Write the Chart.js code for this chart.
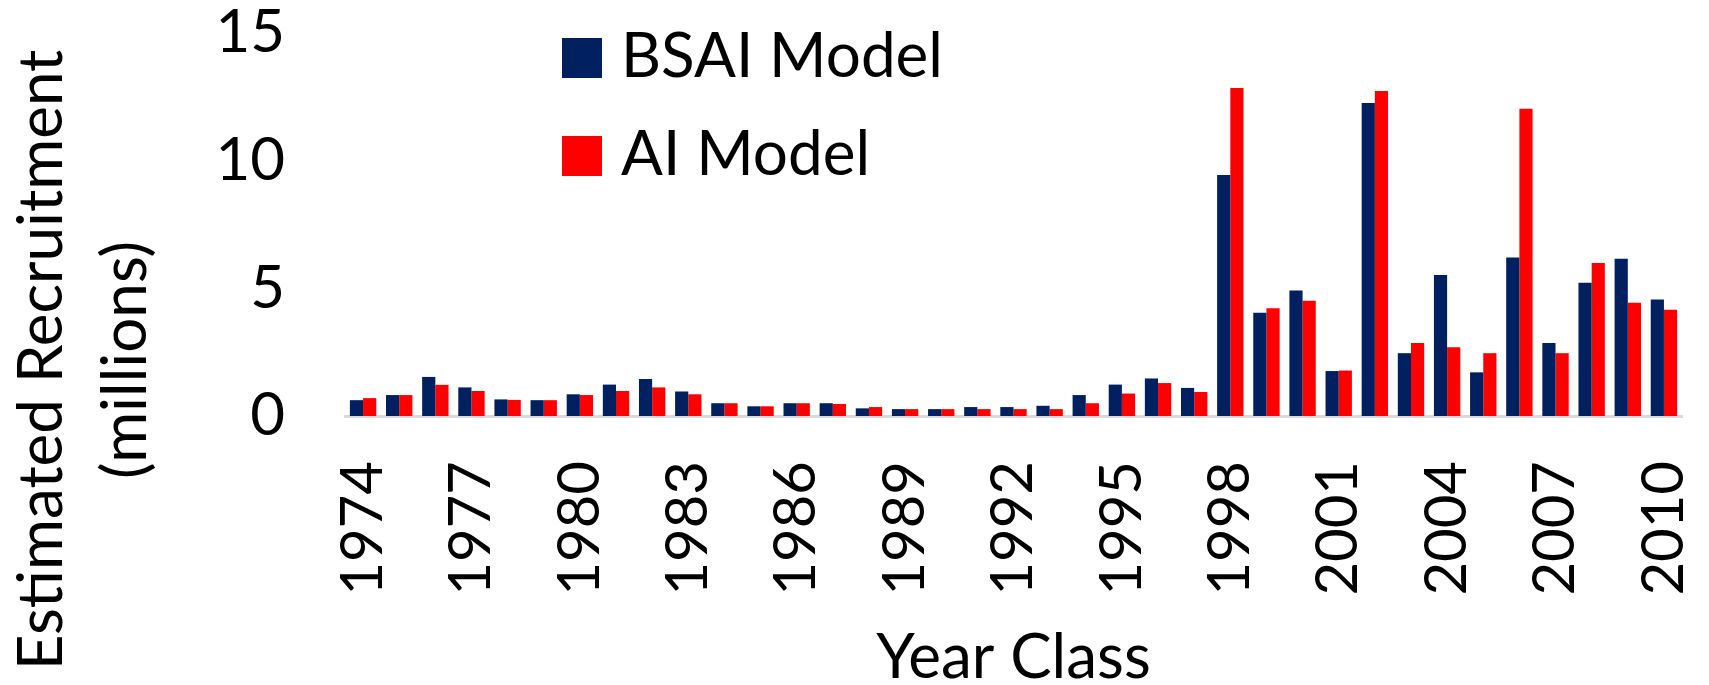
<!DOCTYPE html>
<html>
<head>
<meta charset="utf-8">
<script src="https://cdn.jsdelivr.net/npm/chart.js@4.4.1/dist/chart.umd.min.js"></script>
<style>
  html, body { margin: 0; padding: 0; background: #fff; }
  #wrap { width: 1709px; height: 685px; position: relative; }
</style>
</head>
<body>
<div id="wrap"><canvas id="c" width="1709" height="685"></canvas></div>
<script>
const years = ['1974','1975','1976','1977','1978','1979','1980','1981','1982','1983','1984','1985',
  '1986','1987','1988','1989','1990','1991','1992','1993','1994','1995','1996','1997',
  '1998','1999','2000','2001','2002','2003','2004','2005','2006','2007','2008','2009','2010'];
const bsaiModel = [0.62,0.82,1.53,1.12,0.65,0.62,0.85,1.23,1.45,0.96,0.50,0.38,
  0.50,0.50,0.30,0.27,0.27,0.35,0.35,0.40,0.82,1.23,1.47,1.10,
  9.44,4.04,4.92,1.76,12.26,2.46,5.52,1.71,6.21,2.86,5.22,6.16,4.56];
const aiModel = [0.70,0.82,1.22,0.98,0.63,0.62,0.82,0.98,1.12,0.85,0.50,0.38,
  0.50,0.47,0.35,0.27,0.27,0.27,0.27,0.27,0.50,0.88,1.29,0.94,
  12.85,4.22,4.51,1.78,12.73,2.86,2.69,2.46,12.03,2.46,5.99,4.44,4.16];
const seriesNames = ['BSAI Model', 'AI Model'];
const seriesColors = ['#002060', '#ff0000'];
const yTicks = [0, 5, 10, 15];
const yTitle = ['Estimated Recruitment', '(millions)'];
const xTitle = 'Year Class';
const labelEvery = 3;

const FONT = 'Lato';
Chart.defaults.font.family = FONT;
Chart.defaults.color = '#000';

const legendPlugin = {
  id: 'insideLegend',
  afterDraw(chart) {
    const ctx = chart.ctx;
    ctx.save();
    ctx.font = '62px ' + FONT;
    ctx.textBaseline = 'alphabetic';
    ctx.textAlign = 'left';
    const rows = [38, 136];
    chart.data.datasets.forEach((ds, i) => {
      const y = rows[i];
      ctx.fillStyle = ds.backgroundColor;
      ctx.fillRect(562, y, 40, 40);
      ctx.fillStyle = '#000';
      ctx.fillText(ds.label, 621, y + 39);
    });
    ctx.restore();
  }
};

const yTitlePlugin = {
  id: 'yTitle',
  afterDraw(chart) {
    const ctx = chart.ctx;
    ctx.save();
    ctx.font = '62px ' + FONT;
    ctx.fillStyle = '#000';
    ctx.textAlign = 'center';
    ctx.textBaseline = 'alphabetic';
    const xs = [62, 146];
    yTitle.forEach((t, i) => {
      ctx.save();
      ctx.translate(xs[i], 360);
      ctx.rotate(-Math.PI / 2);
      ctx.fillText(t, 0, 0);
      ctx.restore();
    });
    ctx.restore();
  }
};

new Chart(document.getElementById('c'), {
  type: 'bar',
  data: {
    labels: years,
    datasets: [
      { label: seriesNames[0], data: bsaiModel, backgroundColor: seriesColors[0], borderWidth: 0 },
      { label: seriesNames[1], data: aiModel, backgroundColor: seriesColors[1], borderWidth: 0 }
    ]
  },
  options: {
    responsive: false,
    animation: false,
    devicePixelRatio: 1,
    layout: { padding: { left: 0, right: 27, top: 33, bottom: 0 } },
    datasets: { bar: { categoryPercentage: 0.73, barPercentage: 1.0 } },
    plugins: {
      legend: { display: false },
      tooltip: { enabled: false },
      title: { display: false }
    },
    scales: {
      x: {
        grid: { display: false, drawTicks: false },
        border: { display: true, color: '#d9d9d9', width: 3 },
        ticks: {
          autoSkip: false,
          minRotation: 90,
          maxRotation: 90,
          padding: 45,
          color: '#000',
          font: { size: 58, family: FONT },
          callback: function(value, index) {
            return index % labelEvery === 0 ? this.getLabelForValue(value) : '';
          }
        },
        title: {
          display: true,
          text: xTitle,
          color: '#000',
          font: { size: 62, family: FONT, lineHeight: 1.2 },
          padding: { top: 0, bottom: -10 }
        },
        afterFit(scale) {
          scale.height = 269;
          scale.paddingLeft = 0;
          scale.paddingRight = 0;
        }
      },
      y: {
        min: 0,
        max: 15,
        grid: { display: false, drawTicks: false },
        border: { display: false },
        afterBuildTicks(scale) { scale.ticks = yTicks.map(v => ({ value: v })); },
        ticks: {
          padding: 60,
          color: '#000',
          font: { size: 60, family: FONT }
        },
        afterFit(scale) {
          scale.width = 345;
          scale.paddingTop = 0;
          scale.paddingBottom = 0;
        }
      }
    }
  },
  plugins: [legendPlugin, yTitlePlugin]
});
</script>
</body>
</html>
